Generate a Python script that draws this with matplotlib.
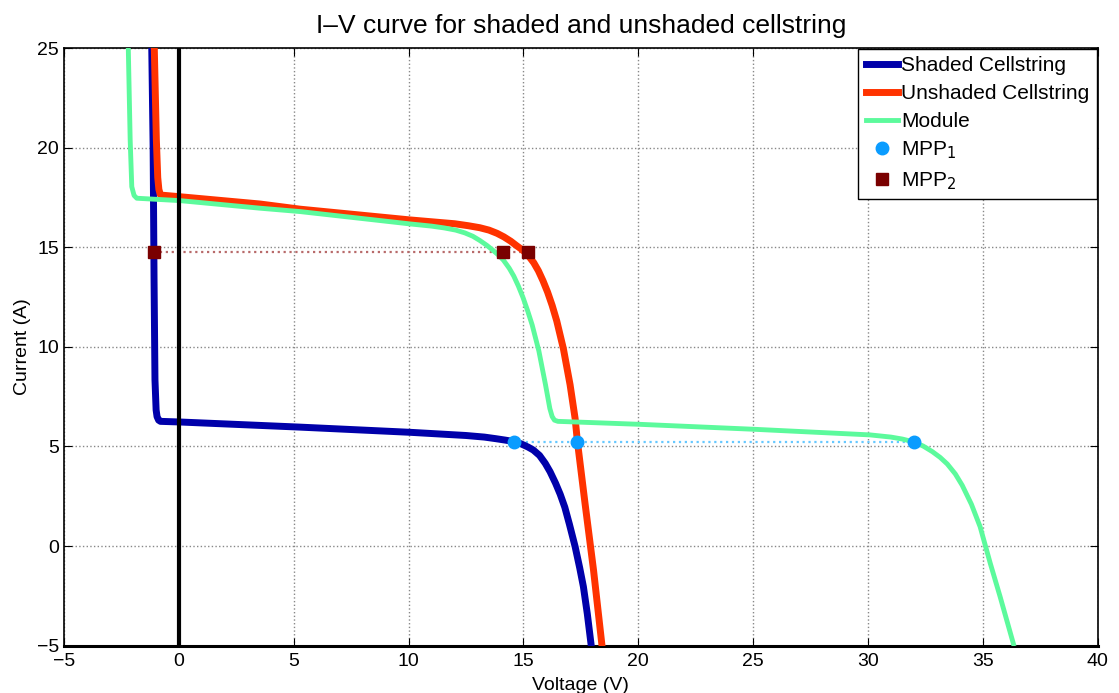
import matplotlib
matplotlib.use("Agg")
import matplotlib.pyplot as plt

plt.rcParams['font.family'] = ['Liberation Sans', 'DejaVu Sans']

# Shaded cellstring I-V curve
v_shaded = [-1.18, -1.12, -1.08, -1.04, -0.99, -0.95, -0.88, -0.80, 0.0, 5.28,
            10.07, 12.5, 13.3, 13.8, 14.2, 14.61, 14.9, 15.2, 15.43, 15.7,
            15.95, 16.16, 16.4, 16.6, 16.8, 17.0, 17.25, 17.45, 17.61, 17.78,
            17.94]
i_shaded = [25.0, 20.0, 13.36, 8.34, 6.83, 6.50, 6.32, 6.26, 6.23, 5.97,
            5.71, 5.55, 5.47, 5.39, 5.32, 5.24, 5.13, 4.97, 4.82, 4.55,
            4.15, 3.73, 3.15, 2.60, 1.95, 1.10, -0.03, -1.10, -2.04, -3.40,
            -4.90]

# Unshaded cellstring I-V curve
v_unshaded = [-1.07, -0.98, -0.92, -0.87, -0.80, 0.0, 3.53, 5.28, 10.07, 12.0,
              12.6, 13.1, 13.5, 13.85, 14.15, 14.45, 14.71, 14.95, 15.2, 15.45,
              15.65, 15.85, 16.05, 16.25, 16.45, 16.74, 17.03, 17.25, 17.35, 17.68,
              18.05, 18.41]
i_unshaded = [25.0, 20.4, 18.5, 17.9, 17.62, 17.54, 17.17, 16.91, 16.37, 16.18,
              16.08, 15.98, 15.86, 15.70, 15.52, 15.30, 15.07, 14.87, 14.60, 14.22,
              13.82, 13.32, 12.75, 12.08, 11.30, 9.90, 8.10, 6.40, 5.24, 2.15,
              -1.20, -4.90]

# Whole module I-V curve
v_module = [-2.2, -2.12, -2.05, -1.95, -1.83, 0.05, 3.53, 5.28, 10.07, 11.0,
            11.55, 12.05, 12.45, 12.8, 13.1, 13.4, 13.65, 13.9, 14.13, 14.38,
            14.58, 14.78, 14.98, 15.18, 15.38, 15.67, 15.96, 16.15, 16.25, 16.35,
            16.5, 20.08, 25.08, 30.09, 31.0, 31.5, 31.98, 32.4, 32.8, 33.14,
            33.45, 33.8, 34.1, 34.5, 34.88, 35.32, 35.75, 36.33]
i_module = [24.9, 20.4, 18.04, 17.6, 17.46, 17.34, 16.96, 16.79, 16.17, 16.06,
            15.97, 15.86, 15.72, 15.55, 15.34, 15.10, 14.87, 14.62, 14.35, 13.95,
            13.55, 13.05, 12.48, 11.82, 11.10, 9.80, 8.10, 6.90, 6.50, 6.32,
            6.26, 6.11, 5.86, 5.58, 5.47, 5.37, 5.23, 5.02, 4.74, 4.45,
            4.12, 3.62, 3.05, 2.10, 0.97, -0.86, -2.54, -4.91]

# Maximum power points
mpp1_v = [14.61, 17.35, 31.98]
mpp1_i = [5.24, 5.24, 5.24]
mpp2_v = [-1.08, 14.13, 15.2]
mpp2_i = [14.78, 14.78, 14.78]

fig = plt.figure(figsize=(11.19, 6.93), dpi=100)
ax = fig.add_axes([0.0572, 0.0683, 0.9238, 0.8624])

ax.plot(v_shaded, i_shaded, color='#0000aa', lw=5, label='Shaded Cellstring',
        zorder=3, solid_joinstyle='round')
ax.plot(v_unshaded, i_unshaded, color='#ff3300', lw=5, label='Unshaded Cellstring',
        zorder=3, solid_joinstyle='round')
ax.plot(v_module, i_module, color='#5cfa9c', lw=3.5, label='Module',
        zorder=3, solid_joinstyle='round')

# horizontal guides through the maximum power points
ax.plot([min(mpp2_v), max(mpp2_v)], [mpp2_i[0], mpp2_i[0]], ls=':', color='#b86a6a', lw=1.6, zorder=2)
ax.plot([min(mpp1_v), max(mpp1_v)], [mpp1_i[0], mpp1_i[0]], ls=':', color='#66c8ff', lw=1.6, zorder=2)

ax.plot(mpp1_v, mpp1_i, 'o', color='#0a9cff', ms=9, ls='none', label='MPP$_1$', zorder=5)
ax.plot(mpp2_v, mpp2_i, 's', color='#7a0000', ms=8, ls='none', label='MPP$_2$', zorder=5)

ax.axvline(0, color='black', lw=3, zorder=4)

ax.set_xlim(-5, 40)
ax.set_ylim(-5, 25)
ax.set_xticks(range(-5, 41, 5))
ax.set_yticks(range(-5, 26, 5))
ax.grid(True, ls=':', color='#888888', lw=1)
ax.tick_params(direction='in', length=6, labelsize=14, top=True, right=True)
ax.tick_params(axis='x', pad=5)
for s in ['left', 'top', 'right']:
    ax.spines[s].set_linewidth(1.2)
ax.spines['bottom'].set_linewidth(2.2)

ax.set_title('I–V curve for shaded and unshaded cellstring', fontsize=19, pad=11)
ax.set_xlabel('Voltage (V)', fontsize=14, labelpad=5)
ax.set_ylabel('Current (A)', fontsize=14, labelpad=4)

leg = ax.legend(loc='upper right', fontsize=15, frameon=True, fancybox=False,
                edgecolor='black', framealpha=1, borderaxespad=0.05,
                handlelength=1.55, handletextpad=0.15, labelspacing=0.42, borderpad=0.35)
leg.get_frame().set_linewidth(1.0)

fig.savefig('out.png', dpi=100)
